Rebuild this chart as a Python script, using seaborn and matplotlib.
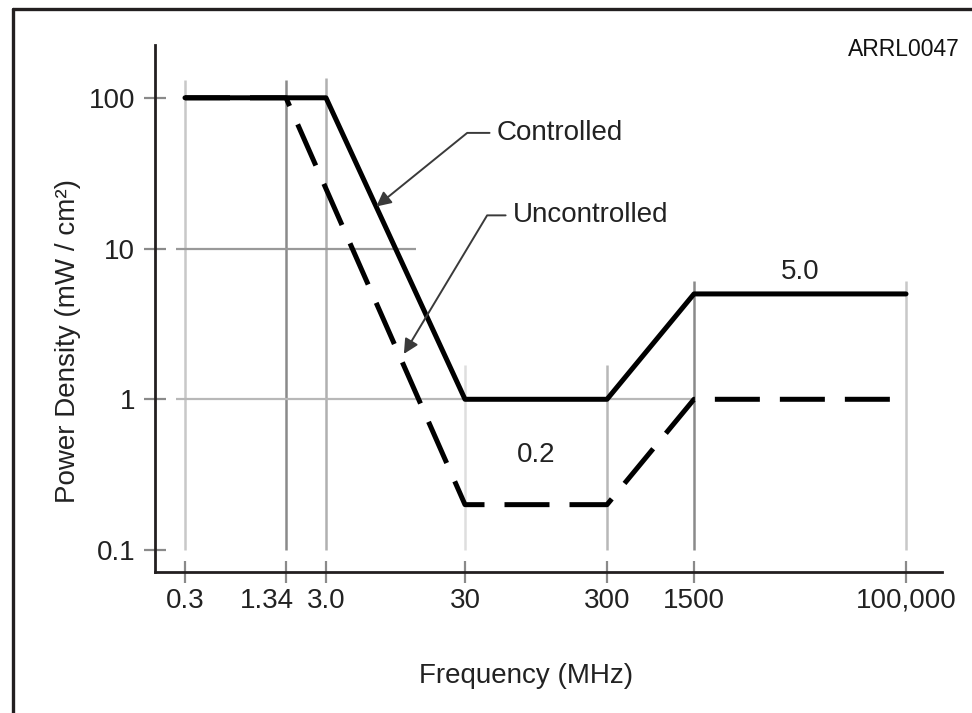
"""
FCC RF exposure limits (MPE) - controlled vs uncontrolled.
"""
import numpy as np
import pandas as pd
import matplotlib
matplotlib.use("Agg")
import matplotlib.pyplot as plt
from matplotlib.lines import Line2D
from matplotlib.transforms import ScaledTranslation
import seaborn as sns

# data
controlled_mhz = [0.3, 3.0, 30, 300, 1500, 100000]
controlled_mw = [100, 100, 1.0, 1.0, 5.0, 5.0]
uncontrolled_mhz = [0.3, 1.34, 30, 300, 1500, 100000]
uncontrolled_mw = [100, 100, 0.2, 0.2, 1.0, 1.0]

freq_ticks = [0.3, 1.34, 3.0, 30, 300, 1500, 100000]
freq_tick_labels = ["0.3", "1.34", "3.0", "30", "300", "1500", "100,000"]
density_ticks = [0.1, 1, 10, 100]
density_tick_labels = ["0.1", "1", "10", "100"]

df = pd.concat([
    pd.DataFrame({"freq": controlled_mhz, "density": controlled_mw, "limit": "Controlled"}),
    pd.DataFrame({"freq": uncontrolled_mhz, "density": uncontrolled_mw, "limit": "Uncontrolled"}),
], ignore_index=True)

# the original x axis is a stretched log axis; map it piecewise
scale_mhz = [0.19] + freq_ticks + [2.04e5]
scale_pos = [155, 185, 286, 326, 465, 607, 694, 906, 942]
log_anchor = np.log10(scale_mhz)


def fwd(x):
    x = np.asarray(x, dtype=float)
    with np.errstate(divide="ignore", invalid="ignore"):
        lx = np.log10(np.clip(x, 1e-300, None))
    return np.interp(lx, log_anchor, scale_pos)


def inv(p):
    return 10 ** np.interp(np.asarray(p, dtype=float), scale_pos, log_anchor)


sns.set_style("white")
plt.rcParams["font.family"] = ["Liberation Sans", "DejaVu Sans"]
ink = "#231f20"
txt = "#222222"

fig = plt.figure(figsize=(9.72, 7.13), dpi=100)
ax = fig.add_axes([155 / 972, 1 - 572 / 713, 787 / 972, 527 / 713])

# partial grid lines like the original drawing
grid_tops = [131, 131, 135, 1.7, 1.7, 6.1, 6.1]
grid_cols = ["#c8c8c8", "#8a8a8a", "#b0b0b0", "#dedede", "#b8b8b8", "#8a8a8a", "#c8c8c8"]
for f, top, c in zip(freq_ticks, grid_tops, grid_cols):
    ax.vlines(f, 0.1, top, colors=c, linewidth=1.8, zorder=1)
ax.hlines(10, 0.262, 13.3, colors="#999999", linewidth=1.6, zorder=1)
ax.hlines(1, 0.262, 1500, colors="#b8b8b8", linewidth=1.6, zorder=1)

sns.lineplot(data=df, x="freq", y="density", style="limit",
             dashes={"Controlled": "", "Uncontrolled": (9, 4)},
             color="black", linewidth=3.6, estimator=None, sort=False,
             legend=False, ax=ax, zorder=3)

ax.set_xscale("function", functions=(fwd, inv))
ax.set_yscale("log")
ax.set_xlim(scale_mhz[0], scale_mhz[-1])
ax.set_ylim(0.0715, 224)
ax.set_xticks(freq_ticks, freq_tick_labels)
ax.set_yticks(density_ticks, density_tick_labels)
ax.minorticks_off()

for side in ["top", "right"]:
    ax.spines[side].set_visible(False)
for side in ["left", "bottom"]:
    ax.spines[side].set_color(ink)
    ax.spines[side].set_linewidth(2.0)

ax.tick_params(axis="both", direction="inout", length=16.5, width=1.6,
               labelsize=20, labelcolor=txt, color="#8a8a8a",
               bottom=True, left=True)
ax.tick_params(axis="x", pad=3)
ax.tick_params(axis="y", pad=6)
xt = ax.xaxis.get_major_ticks()
xt[1].tick1line.set_color("black")
xt[5].tick1line.set_color("black")
xt[3].tick1line.set_color("#c4c4c4")
# nudge 1.34 left so it clears 3.0
xt[1].label1.set_transform(xt[1].label1.get_transform()
                           + ScaledTranslation(-0.19, 0, fig.dpi_scale_trans))

ax.set_xlabel("Frequency (MHz)", fontsize=20, color=txt)
ax.xaxis.set_label_coords(0.472, -0.173)
ax.set_ylabel("Power Density (mW / cm²)", fontsize=20, color=txt)
ax.yaxis.set_label_coords(-0.094, 0.438)

# call-outs
ax.annotate("Controlled", xy=(6.9, 19), xytext=(50.4, 58.5),
            ha="left", va="center", fontsize=20, color=txt,
            arrowprops=dict(arrowstyle="-|>", color="#3a3a3a", lw=1.4,
                            mutation_scale=22, shrinkA=3, shrinkB=0,
                            connectionstyle="angle,angleA=0,angleB=39,rad=0"))
ax.annotate("Uncontrolled", xy=(10.9, 2.0), xytext=(65.4, 16.6),
            ha="left", va="center", fontsize=20, color=txt,
            arrowprops=dict(arrowstyle="-|>", color="#3a3a3a", lw=1.4,
                            mutation_scale=22, shrinkA=3, shrinkB=0,
                            connectionstyle="angle,angleA=0,angleB=59,rad=0"))

ax.text(np.sqrt(controlled_mhz[-2] * controlled_mhz[-1]), controlled_mw[-1] * 1.14,
        "5.0", ha="center", va="bottom", fontsize=20, color=txt)
ax.text(np.sqrt(uncontrolled_mhz[2] * uncontrolled_mhz[3]), uncontrolled_mw[2] * 1.75,
        "0.2", ha="center", va="bottom", fontsize=20, color=txt)

fig.text(960 / 972, 1 - 38 / 713, "ARRL0047", ha="right", va="top",
         fontsize=16.5, color="#111111")

# frame of the source figure (left and top edges only)
fig.add_artist(Line2D([13 / 972, 13 / 972], [0, 1 - 9 / 713],
                      transform=fig.transFigure, color=ink, linewidth=2.4))
fig.add_artist(Line2D([13 / 972, 1], [1 - 9 / 713, 1 - 9 / 713],
                      transform=fig.transFigure, color=ink, linewidth=2.4))

fig.savefig("out.png", dpi=100, facecolor="white")
